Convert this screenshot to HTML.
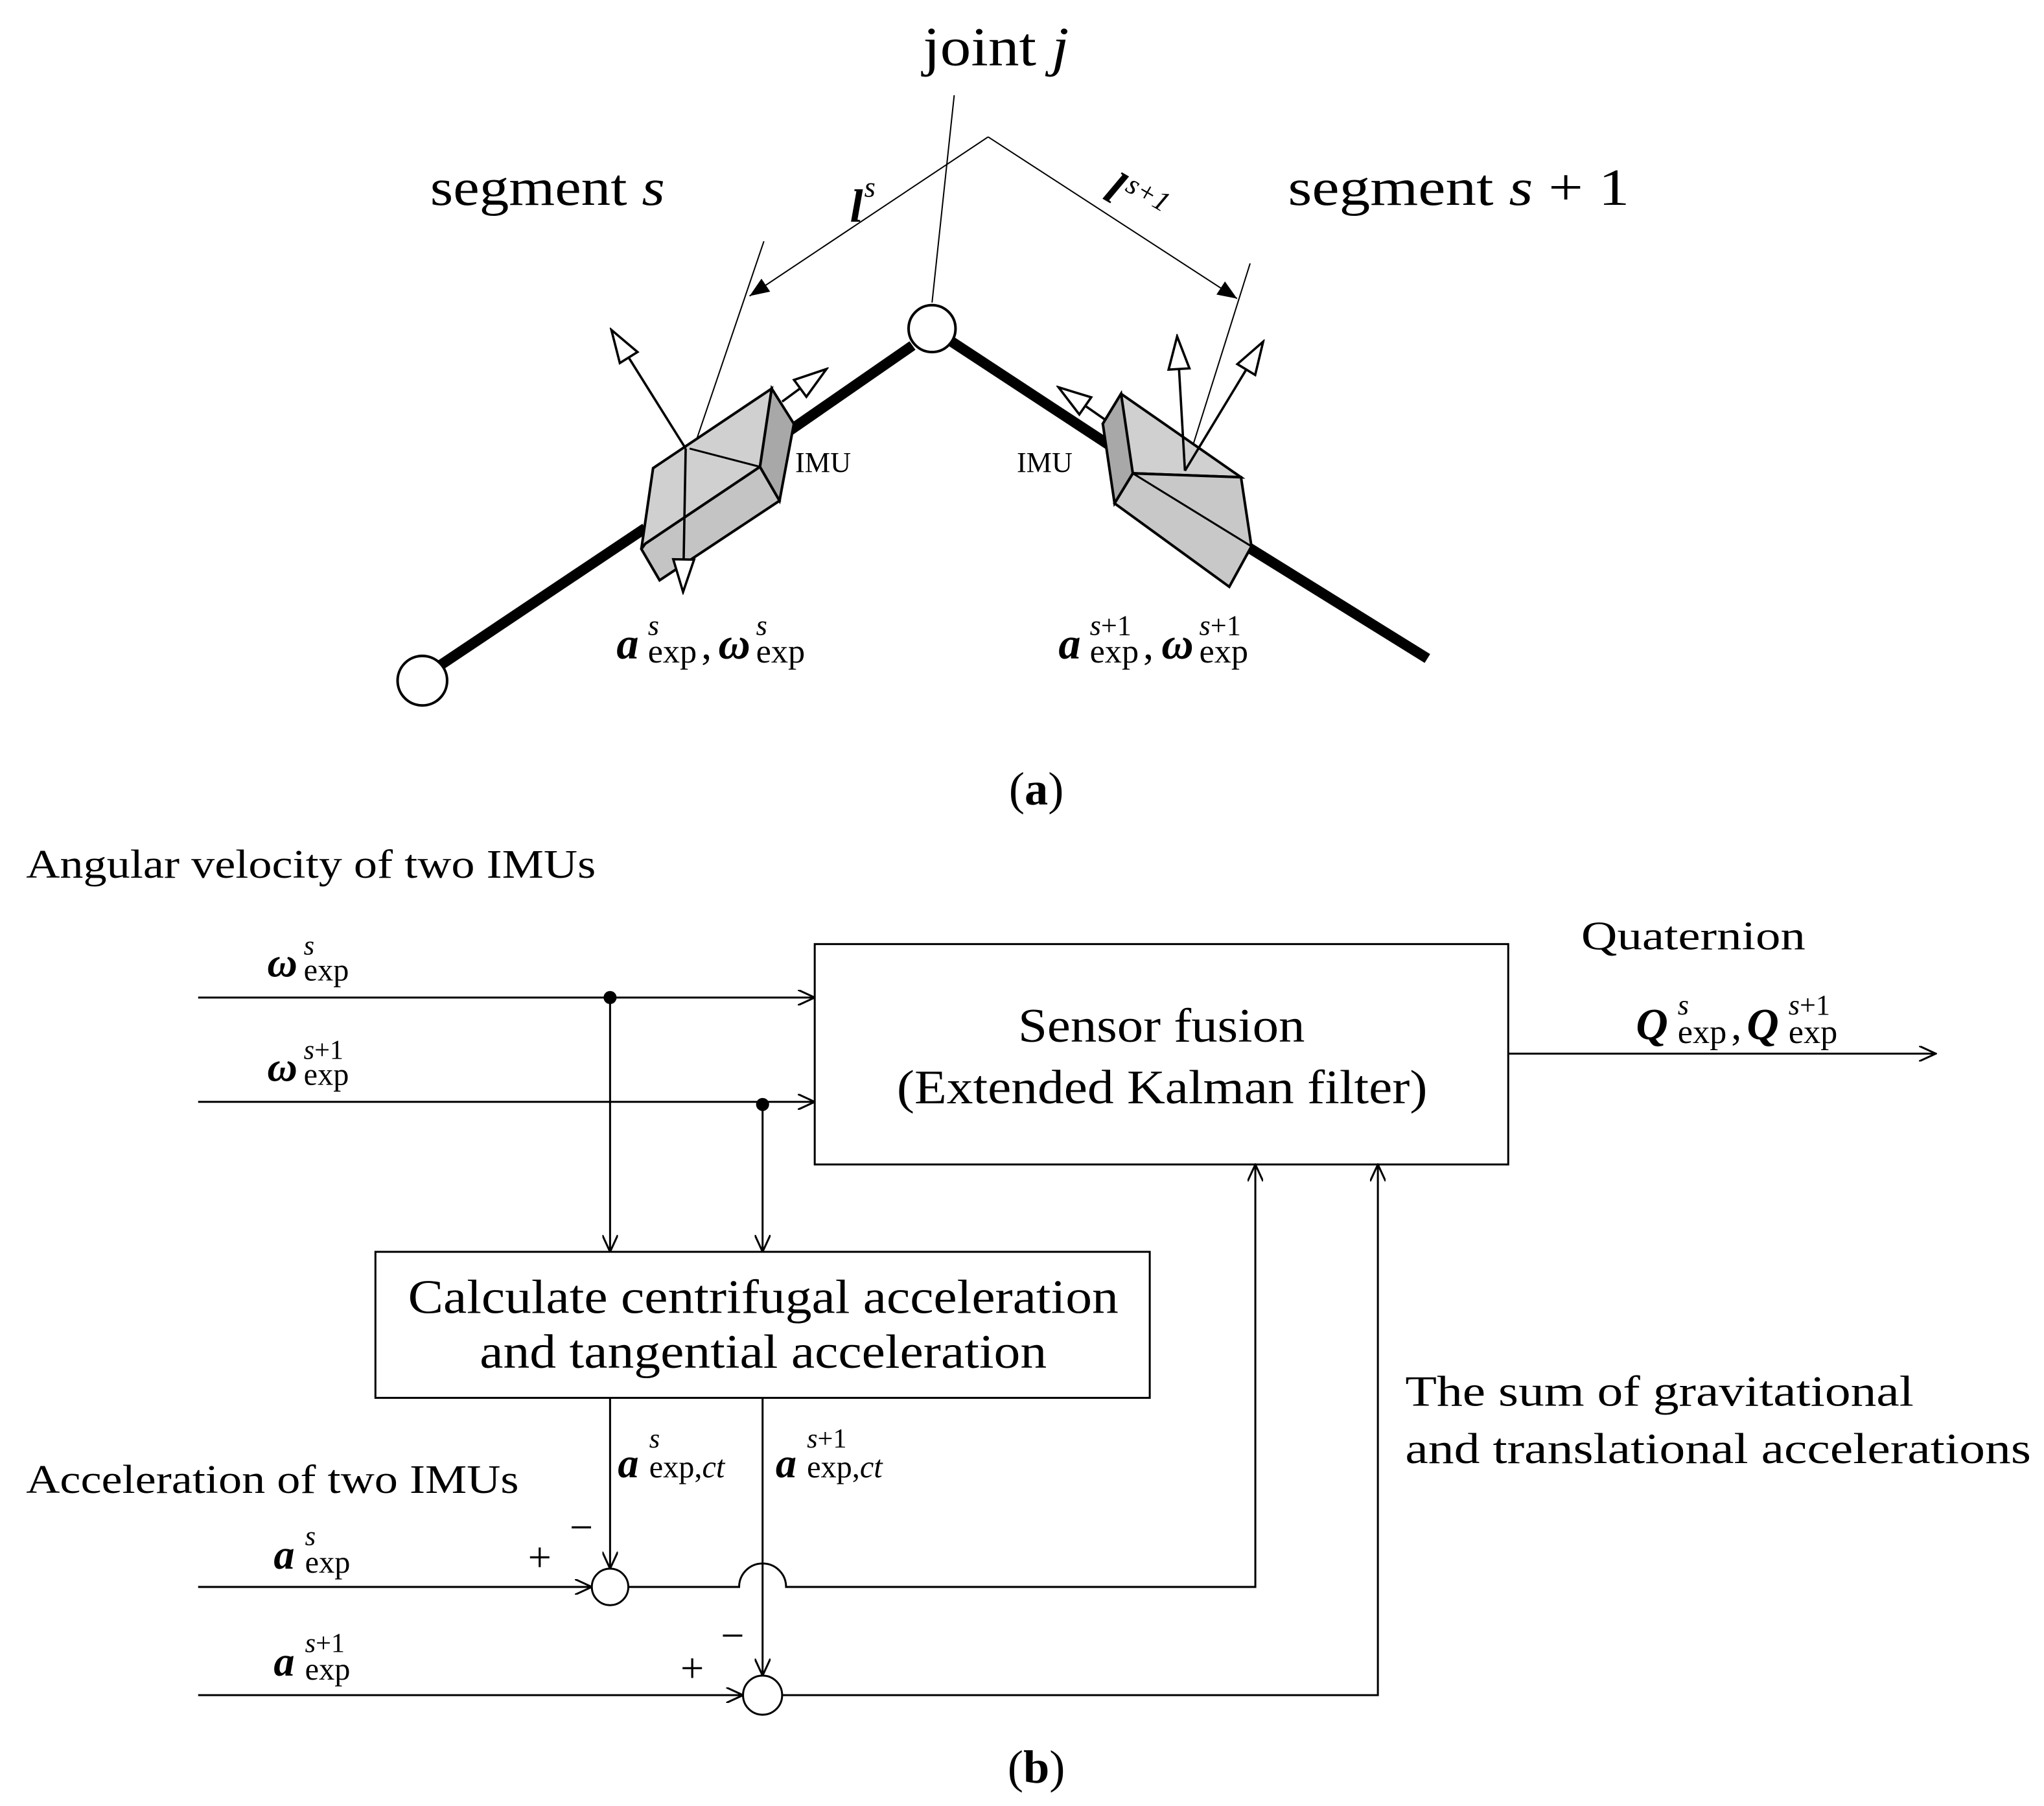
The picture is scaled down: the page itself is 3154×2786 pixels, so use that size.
<!DOCTYPE html>
<html><head><meta charset="utf-8"><style>
html,body{margin:0;padding:0;background:#fff;}
svg{display:block;}
text{font-family:"Liberation Serif",serif;fill:#000;}
.b{font-weight:bold;font-style:italic;}
.i{font-style:italic;}
</style></head><body>
<svg width="3154" height="2786" viewBox="0 0 1568 1385" preserveAspectRatio="none" xmlns="http://www.w3.org/2000/svg">
<defs>
<marker id="ar" markerWidth="14" markerHeight="12" refX="13" refY="6" orient="auto" markerUnits="userSpaceOnUse">
<path d="M0,0 L13,6 L0,12" fill="none" stroke="#000" stroke-width="1.5"/>
</marker>
<marker id="fa" markerWidth="16" markerHeight="12" refX="15" refY="6" orient="auto" markerUnits="userSpaceOnUse">
<path d="M0,0 L15,6 L0,12 Z" fill="#000"/>
</marker>
<marker id="oa" markerWidth="28" markerHeight="20" refX="26" refY="10" orient="auto" markerUnits="userSpaceOnUse">
<path d="M1,2 L26,10 L1,18 Z" fill="#fff" stroke="#000" stroke-width="1.8"/>
</marker>
</defs>

<!-- (a) -->
<text x="708" y="50" font-size="42" textLength="112" lengthAdjust="spacingAndGlyphs">joint <tspan class="i">j</tspan></text>
<text x="330" y="157" font-size="40" textLength="180" lengthAdjust="spacingAndGlyphs">segment <tspan class="i">s</tspan></text>
<text x="988" y="157" font-size="40" textLength="262" lengthAdjust="spacingAndGlyphs">segment <tspan class="i">s</tspan> + 1</text>
<text x="652" y="170" font-size="36" class="b">l</text><text x="663" y="151" font-size="22" class="i">s</text>
<g transform="translate(845,152) rotate(30)">
<text x="0" y="0" font-size="36" class="b">l</text>
<text x="12" y="-14" font-size="22" class="i">s+1</text>
</g>

<!-- thin lines -->
<line x1="732" y1="73" x2="715" y2="232" stroke="#000" stroke-width="1"/>
<line x1="758" y1="105" x2="575" y2="227" stroke="#000" stroke-width="1" marker-end="url(#fa)"/>
<line x1="758" y1="105" x2="949" y2="229" stroke="#000" stroke-width="1" marker-end="url(#fa)"/>
<line x1="586" y1="185" x2="532" y2="344" stroke="#000" stroke-width="1"/>
<line x1="959" y1="202" x2="909" y2="361" stroke="#000" stroke-width="1"/>

<!-- thick segments -->
<line x1="335" y1="512" x2="495" y2="405" stroke="#000" stroke-width="8"/>
<line x1="596" y1="337" x2="700" y2="265" stroke="#000" stroke-width="8"/>
<line x1="730" y1="262" x2="858" y2="346" stroke="#000" stroke-width="8"/>
<line x1="958" y1="420" x2="1095" y2="505" stroke="#000" stroke-width="8"/>

<circle cx="715" cy="252" r="18" fill="#fff" stroke="#000" stroke-width="2"/>
<circle cx="324" cy="522" r="19" fill="#fff" stroke="#000" stroke-width="2"/>

<!-- left IMU -->
<polygon points="501,359 592,298 583,358 495,417 492,421" fill="#d0d0d0" stroke="#000" stroke-width="2"/>
<polygon points="495,417 583,358 598,384 506,445 492,421" fill="#c4c4c4" stroke="#000" stroke-width="2"/>
<polygon points="592,298 609,325 598,384 583,358" fill="#a8a8a8" stroke="#000" stroke-width="2"/>
<line x1="529" y1="344" x2="583" y2="358" stroke="#000" stroke-width="1.5"/>
<line x1="526" y1="344" x2="469" y2="253" stroke="#000" stroke-width="1.8" marker-end="url(#oa)"/>
<line x1="526" y1="344" x2="524" y2="454" stroke="#000" stroke-width="1.8" marker-end="url(#oa)"/>
<line x1="600" y1="308" x2="634" y2="283" stroke="#000" stroke-width="1.8" marker-end="url(#oa)"/>
<text x="610" y="362" font-size="22">IMU</text>

<!-- right IMU -->
<polygon points="860,302 952,366 869,363 846,325" fill="#d0d0d0" stroke="#000" stroke-width="2"/>
<polygon points="869,363 952,366 960,419 943,450 855,386" fill="#c8c8c8" stroke="#000" stroke-width="2"/>
<polygon points="846,325 860,302 869,363 855,386" fill="#a8a8a8" stroke="#000" stroke-width="2"/>
<line x1="869" y1="363" x2="960" y2="419" stroke="#000" stroke-width="1.5"/>
<line x1="909" y1="361" x2="903" y2="258" stroke="#000" stroke-width="1.8" marker-end="url(#oa)"/>
<line x1="909" y1="361" x2="969" y2="262" stroke="#000" stroke-width="1.8" marker-end="url(#oa)"/>
<line x1="848" y1="322" x2="812" y2="297" stroke="#000" stroke-width="1.8" marker-end="url(#oa)"/>
<text x="780" y="362" font-size="22">IMU</text>

<!-- math labels a -->
<text x="473" y="505" font-size="34" class="b">a</text>
<text x="497" y="487" font-size="22" class="i">s</text>
<text x="497" y="508" font-size="26">exp</text>
<text x="538" y="505" font-size="32">,</text>
<text x="551" y="505" font-size="34" class="b">ω</text>
<text x="580" y="487" font-size="22" class="i">s</text>
<text x="580" y="508" font-size="26">exp</text>

<text x="812" y="505" font-size="34" class="b">a</text>
<text x="836" y="487" font-size="22"><tspan class="i">s</tspan>+1</text>
<text x="836" y="508" font-size="26">exp</text>
<text x="877" y="505" font-size="32">,</text>
<text x="891" y="505" font-size="34" class="b">ω</text>
<text x="920" y="487" font-size="22"><tspan class="i">s</tspan>+1</text>
<text x="920" y="508" font-size="26">exp</text>

<text x="795" y="617" font-size="36" text-anchor="middle">(<tspan font-weight="bold">a</tspan>)</text>

<!-- (b) -->
<text x="20" y="673" font-size="31" textLength="437" lengthAdjust="spacingAndGlyphs">Angular velocity of two  IMUs</text>
<text x="205" y="749" font-size="32" class="b">ω</text>
<text x="233" y="732" font-size="21" class="i">s</text>
<text x="233" y="752" font-size="24">exp</text>
<text x="205" y="829" font-size="32" class="b">ω</text>
<text x="233" y="812" font-size="21"><tspan class="i">s</tspan>+1</text>
<text x="233" y="832" font-size="24">exp</text>

<line x1="152" y1="765" x2="625" y2="765" stroke="#000" stroke-width="1.5" marker-end="url(#ar)"/>
<line x1="152" y1="845" x2="625" y2="845" stroke="#000" stroke-width="1.5" marker-end="url(#ar)"/>
<circle cx="468" cy="765" r="5" fill="#000"/>
<circle cx="585" cy="847" r="5" fill="#000"/>
<line x1="468" y1="765" x2="468" y2="960" stroke="#000" stroke-width="1.5" marker-end="url(#ar)"/>
<line x1="585" y1="847" x2="585" y2="960" stroke="#000" stroke-width="1.5" marker-end="url(#ar)"/>

<rect x="625" y="724" width="532" height="169" fill="#fff" stroke="#000" stroke-width="1.5"/>
<text x="781" y="799" font-size="37" textLength="220" lengthAdjust="spacingAndGlyphs">Sensor fusion</text>
<text x="688" y="846" font-size="37" textLength="407" lengthAdjust="spacingAndGlyphs">(Extended Kalman filter)</text>

<text x="1213" y="728" font-size="31" textLength="172" lengthAdjust="spacingAndGlyphs">Quaternion</text>
<text x="1255" y="797" font-size="34" class="b">Q</text>
<text x="1287" y="778" font-size="22" class="i">s</text>
<text x="1287" y="800" font-size="26">exp</text>
<text x="1328" y="797" font-size="32">,</text>
<text x="1340" y="797" font-size="34" class="b">Q</text>
<text x="1372" y="778" font-size="22"><tspan class="i">s</tspan>+1</text>
<text x="1372" y="800" font-size="26">exp</text>
<line x1="1157" y1="808" x2="1485" y2="808" stroke="#000" stroke-width="1.5" marker-end="url(#ar)"/>

<rect x="288" y="960" width="594" height="112" fill="#fff" stroke="#000" stroke-width="1.5"/>
<text x="313" y="1007" font-size="37" textLength="545" lengthAdjust="spacingAndGlyphs">Calculate centrifugal acceleration</text>
<text x="368" y="1049" font-size="37" textLength="435" lengthAdjust="spacingAndGlyphs">and tangential acceleration</text>

<line x1="468" y1="1072" x2="468" y2="1203" stroke="#000" stroke-width="1.5" marker-end="url(#ar)"/>
<path d="M585,1072 L585,1285" fill="none" stroke="#000" stroke-width="1.5" marker-end="url(#ar)"/>
<text x="474" y="1133" font-size="32" class="b">a</text>
<text x="498" y="1110" font-size="21" class="i">s</text>
<text x="498" y="1133" font-size="24">exp,<tspan class="i">ct</tspan></text>
<text x="595" y="1133" font-size="32" class="b">a</text>
<text x="619" y="1110" font-size="21"><tspan class="i">s</tspan>+1</text>
<text x="619" y="1133" font-size="24">exp,<tspan class="i">ct</tspan></text>

<text x="20" y="1145" font-size="31" textLength="378" lengthAdjust="spacingAndGlyphs">Acceleration of two  IMUs</text>
<text x="1078" y="1078" font-size="33" textLength="390" lengthAdjust="spacingAndGlyphs">The sum of gravitational</text>
<text x="1078" y="1122" font-size="33" textLength="480" lengthAdjust="spacingAndGlyphs">and translational accelerations</text>

<text x="210" y="1203" font-size="32" class="b">a</text>
<text x="234" y="1185" font-size="21" class="i">s</text>
<text x="234" y="1206" font-size="24">exp</text>
<text x="210" y="1285" font-size="32" class="b">a</text>
<text x="234" y="1267" font-size="21"><tspan class="i">s</tspan>+1</text>
<text x="234" y="1288" font-size="24">exp</text>

<line x1="152" y1="1217" x2="454" y2="1217" stroke="#000" stroke-width="1.5" marker-end="url(#ar)"/>
<circle cx="468" cy="1217" r="14" fill="#fff" stroke="#000" stroke-width="1.5"/>
<path d="M482,1217 L567,1217 A18,18 0 0 1 603,1217 L963,1217 L963,893" fill="none" stroke="#000" stroke-width="1.5" marker-end="url(#ar)"/>
<line x1="152" y1="1300" x2="570" y2="1300" stroke="#000" stroke-width="1.5" marker-end="url(#ar)"/>
<circle cx="585" cy="1300" r="15" fill="#fff" stroke="#000" stroke-width="1.5"/>
<path d="M600,1300 L1057,1300 L1057,893" fill="none" stroke="#000" stroke-width="1.5" marker-end="url(#ar)"/>

<text x="405" y="1205" font-size="32">+</text>
<text x="437" y="1182" font-size="32">−</text>
<text x="522" y="1290" font-size="32">+</text>
<text x="553" y="1265" font-size="32">−</text>

<text x="795" y="1367" font-size="36" text-anchor="middle">(<tspan font-weight="bold">b</tspan>)</text>
</svg>
</body></html>
